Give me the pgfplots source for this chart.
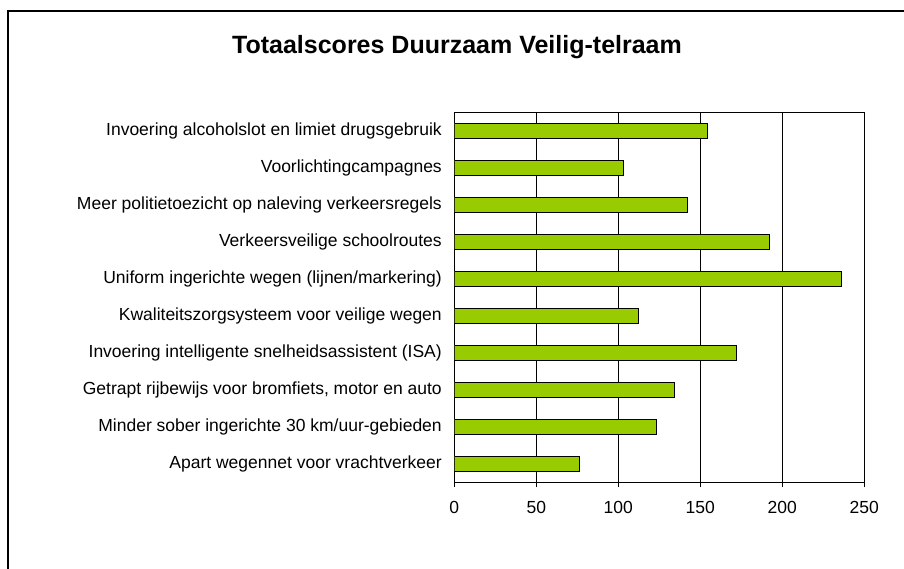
\documentclass[border=0pt]{standalone}
\usepackage{fontspec}
\setmainfont{Liberation Sans}
\usepackage{pgfplots}
\pgfplotsset{compat=1.18}
\definecolor{barg}{HTML}{99CC00}
\begin{document}
\begin{tikzpicture}[x=1pt,y=1pt]
\useasboundingbox (0,0) rectangle (904,568);
\draw[line width=2.2pt] (8,-10) -- (8,557) -- (920,557);
\node[font=\bfseries\fontsize{25}{27}\selectfont] at (457,521) {Totaalscores Duurzaam Veilig-telraam};
\begin{axis}[
  at={(454.3pt,86pt)}, anchor=south west,
  scale only axis, width=410pt, height=370pt,
  xmin=0, xmax=250, ymin=-0.5, ymax=9.5, y dir=reverse,
  xtick={0,50,...,250},
  ytick={0,...,9},
  yticklabels={Invoering alcoholslot en limiet drugsgebruik,Voorlichtingcampagnes,Meer politietoezicht op naleving verkeersregels,Verkeersveilige schoolroutes,Uniform ingerichte wegen (lijnen/markering),Kwaliteitszorgsysteem voor veilige wegen,Invoering intelligente snelheidsassistent (ISA),Getrapt rijbewijs voor bromfiets{,} motor en auto,Minder sober ingerichte 30 km/uur-gebieden,Apart wegennet voor vrachtverkeer},
  minor ytick={-0.5,0.5,...,9.5},
  tick align=outside,
  xtick pos=bottom, ytick pos=left,
  major tick length=5pt, minor tick length=5pt,
  ytick style={draw=none},
  minor tick style={draw=black, line width=0.8pt},
  xtick style={draw=black, line width=0.8pt},
  xmajorgrids, major grid style={black, line width=0.8pt},
  axis line style={black, line width=0.8pt},
  ticklabel style={font=\fontsize{17.5}{19}\selectfont},
  yticklabel style={xshift=-4pt},
  xticklabel style={yshift=-11pt},
  /pgf/number format/assume math mode=true,
  xbar, bar width=15pt,
]
\addplot[fill=barg, draw=black, line width=0.7pt] coordinates {
(154,0) (103,1) (142,2) (192,3) (236,4) (112,5) (172,6) (134,7) (123,8) (76,9)};
\end{axis}
\end{tikzpicture}
\end{document}
